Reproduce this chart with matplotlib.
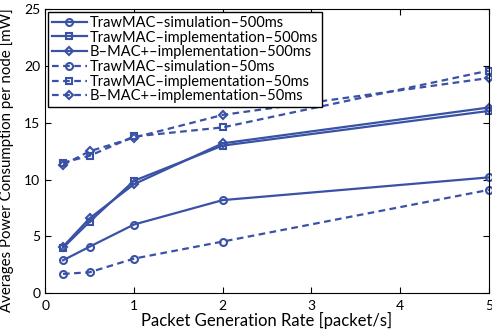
import matplotlib
matplotlib.use("Agg")
import matplotlib.pyplot as plt

# packet rates (packet/s)
rates = [0.2, 0.5, 1, 2, 5]

# average power per node (mW)
traw_sim_500 = [2.9, 4.1, 6.05, 8.2, 10.2]
traw_impl_500 = [4.0, 6.3, 9.9, 13.0, 16.05]
bmac_impl_500 = [4.1, 6.6, 9.6, 13.2, 16.35]
traw_sim_50 = [1.7, 1.85, 3.05, 4.55, 9.1]
traw_impl_50 = [11.5, 12.1, 13.8, 14.6, 19.6]
bmac_impl_50 = [11.3, 12.5, 13.7, 15.7, 18.95]

labels = [
    "TrawMAC–simulation–500ms",
    "TrawMAC–implementation–500ms",
    "B–MAC+–implementation–500ms",
    "TrawMAC–simulation–50ms",
    "TrawMAC–implementation–50ms",
    "B–MAC+–implementation–50ms",
]
series = [traw_sim_500, traw_impl_500, bmac_impl_500,
          traw_sim_50, traw_impl_50, bmac_impl_50]
markers = ["o", "s", "D", "o", "s", "D"]
styles = ["-", "-", "-", "--", "--", "--"]

plt.rcParams["font.family"] = ["Lato", "DejaVu Sans"]
COLOR = "#3A52A6"

fig = plt.figure(figsize=(4.92, 3.31), dpi=100)
ax = fig.add_axes([0.092, 0.114, 0.9015, 0.858])

for ys, lab, m, ls in zip(series, labels, markers, styles):
    ax.plot(rates, ys, linestyle=ls, marker=m, color=COLOR, label=lab,
            linewidth=1.6, markersize=5 if m != "D" else 4.5,
            markerfacecolor="none", markeredgewidth=1.5,
            dashes=(3, 2) if ls == "--" else (None, None),
            clip_on=False)

ax.set_xlim(0, 5)
ax.set_ylim(0, 25)
ax.set_xticks([0, 1, 2, 3, 4, 5])
ax.set_yticks([0, 5, 10, 15, 20, 25])
ax.tick_params(direction="in", top=True, right=True, labelsize=10, length=4)
ax.tick_params(axis="x", pad=5)
ax.set_xlabel("Packet Generation Rate [packet/s]", fontsize=12, labelpad=0)
ax.set_ylabel("Averages Power Consumption per node [mW]", fontsize=10.8, labelpad=5)
ax.yaxis.set_label_coords(-0.07, 0.47)

leg = ax.legend(loc="upper left", fontsize=10.5, frameon=True, fancybox=False,
                borderpad=0.25, labelspacing=0.05, handlelength=2.4,
                handletextpad=0.2, borderaxespad=0.2)
leg.get_frame().set_edgecolor("black")
leg.get_frame().set_linewidth(1.0)
leg.get_frame().set_alpha(1)

fig.savefig("out.png", dpi=100)
